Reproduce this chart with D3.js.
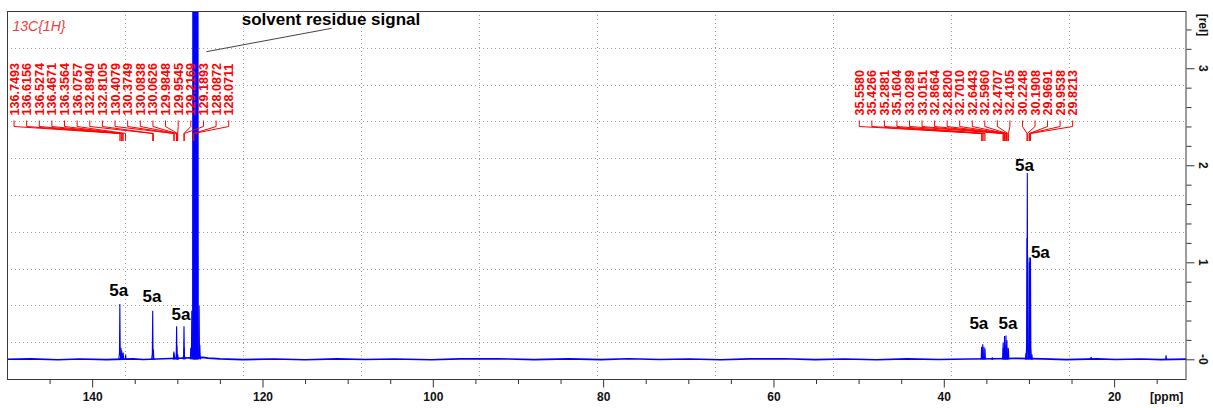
<!DOCTYPE html>
<html>
<head>
<meta charset="utf-8">
<script src="https://cdn.jsdelivr.net/npm/d3@7"></script>
<style>
  html, body { margin: 0; padding: 0; background: #fff; overflow: hidden; }
  text { font-family: "Liberation Sans", Arial, sans-serif; }
</style>
</head>
<body>
<svg id="chart" width="1213" height="408"></svg>
<script>
// ---- 13C{1H} NMR spectrum data ----
// chemical-shift axis limits (ppm, high field on the right) and intensity limits (rel)
const ppmRange = [150, 11.5];
const relRange = [-0.203, 3.59];

// resolved signals: position (ppm) and relative intensity
const peakPpm = [
  136.7493, 136.6156, 136.5274, 136.4671, 136.3564, 136.0757,
  132.8940, 132.8105,
  130.4079, 130.3749, 130.0838, 130.0626, 129.9848, 129.9545,
  129.2169, 129.1893,
  128.42, 128.30, 127.44, 127.36,
  35.5580, 35.4266, 35.2881, 35.1604,
  33.0289, 33.0151, 32.8664, 32.8200, 32.7010, 32.6443, 32.5960, 32.4707, 32.4105,
  30.35, 30.2248, 30.1908, 29.9691, 29.9538, 29.8213, 29.65,
  34.3, 22.7, 13.9
];
const peakHeight = [
  0.57, 0.12, 0.09, 0.06, 0.07, 0.05,
  0.50, 0.10,
  0.08, 0.06, 0.34, 0.14, 0.05, 0.05,
  0.34, 0.12,
  0.12, 0.50, 0.55, 0.15,
  0.13, 0.155, 0.13, 0.11,
  0.17, 0.12, 0.24, 0.15, 0.245, 0.14, 0.20, 0.12, 0.11,
  0.06, 1.25, 1.92, 1.05, 1.00, 1.05, 0.05,
  0.02, 0.025, 0.04
];

// C6D6 solvent multiplet (far off scale)
const solventPpm = [128.15, 128.10, 128.05, 128.00, 127.95, 127.90, 127.85,
                    127.80, 127.75, 127.70, 127.65, 127.60];
const solventHeight = [40, 40, 40, 40, 40, 40, 40, 40, 40, 40, 40, 40];

// baseline trace between signals
const baselinePpm = [150, 147.2, 144.0, 141.5, 138.3, 135.2, 134.0, 131.6, 127.0, 126.4,
  125.0, 122.3, 118.6, 115.0, 111.2, 108.0, 104.5, 100.2, 96.8, 92.5, 88.1, 84.0,
  80.3, 77.0, 73.4, 69.9, 66.2, 62.7, 58.8, 55.1, 51.6, 47.9, 44.3, 40.6, 37.0,
  34.0, 31.5, 28.4, 25.6, 22.0, 19.8, 16.9, 14.5, 11.5];
const baselineLevel = [0.000, 0.004, -0.004, 0.003, -0.003, 0.004, -0.002, 0.005, 0.02, 0.012,
  0.004, -0.003, 0.003, -0.004, 0.004, -0.002, 0.003, -0.004, 0.004, 0.006, -0.003, 0.004,
  -0.003, 0.005, -0.002, 0.003, -0.004, 0.004, 0.005, -0.003, 0.003, -0.004, 0.004, -0.002,
  0.003, 0.006, 0.01, 0.004, -0.003, 0.004, -0.002, 0.003, -0.003, 0.002];

// peak-pick labels
const leftPeakLabels = ["136.7493", "136.6156", "136.5274", "136.4671", "136.3564", "136.0757",
  "132.8940", "132.8105", "130.4079", "130.3749", "130.0838", "130.0626", "129.9848",
  "129.9545", "129.2169", "129.1893", "128.0872", "128.0711"];
const rightPeakLabels = ["35.5580", "35.4266", "35.2881", "35.1604", "33.0289", "33.0151",
  "32.8664", "32.8200", "32.7010", "32.6443", "32.5960", "32.4707", "32.4105", "30.2248",
  "30.1908", "29.9691", "29.9538", "29.8213"];

// compound assignment labels: anchor position (ppm, rel)
const assignText = ["5a", "5a", "5a", "5a", "5a", "5a", "5a"];
const assignPpm = [136.88, 132.97, 129.57, 30.52, 28.66, 35.88, 32.47];
const assignRel = [0.652, 0.594, 0.405, 1.944, 1.041, 0.309, 0.309];

// axis ticks
const xMajorTicks = [140, 120, 100, 80, 60, 40, 20];
const xMinorTicks = [145, 135, 130, 125, 115, 110, 105, 95, 90, 85, 75, 70, 65, 55, 50, 45,
                     35, 30, 25, 15];
const yMajorTicks = [0, 1, 2, 3];
const yTickLabels = ["-0", "1", "2", "3"];
const yMinorTicks = [0.2, 0.4, 0.6, 0.8, 1.2, 1.4, 1.6, 1.8, 2.2, 2.4, 2.6, 2.8, 3.2, 3.4];

// ---- layout ----
const frame = { left: 7, top: 11, right: 1186.5, bottom: 379 };
const blue = "#0000ff";
const red = "#ff0000";

const svg = d3.select("#chart");
const x = d3.scaleLinear().domain(ppmRange).range([frame.left, frame.right]);
const y = d3.scaleLinear().domain(relRange).range([frame.bottom, frame.top]);

// dotted grid: ten equal divisions of the plot frame
const grid = svg.append("g").attr("stroke", "#a0a0a0").attr("stroke-width", 1)
  .attr("stroke-dasharray", "1,3");
const fw = frame.right - frame.left, fh = frame.bottom - frame.top;
for (let k = 1; k < 10; k++) {
  const gx = Math.round(frame.left + fw * k / 10) + 0.5;
  const gy = Math.round(frame.top + fh * k / 10) + 0.5;
  grid.append("line").attr("x1", gx).attr("x2", gx).attr("y1", frame.top).attr("y2", frame.bottom);
  grid.append("line").attr("x1", frame.left).attr("x2", frame.right).attr("y1", gy).attr("y2", gy);
}

// spectrum, clipped to the frame
svg.append("clipPath").attr("id", "plotClip").append("rect")
  .attr("x", frame.left).attr("y", frame.top).attr("width", fw).attr("height", fh);
const spec = svg.append("g").attr("clip-path", "url(#plotClip)")
  .attr("fill", "none").attr("stroke", blue);

const line = d3.line().x(d => x(d[0])).y(d => y(d[1]));
spec.append("path")
  .attr("d", line(baselinePpm.map((p, i) => [p, baselineLevel[i]])))
  .attr("stroke-width", 1.6);

function spike(p, h, w) {
  return line([[p + w, 0], [p + w * 0.35, h * 0.12], [p, h], [p - w * 0.35, h * 0.12], [p - w, 0]]);
}
peakPpm.forEach((p, i) => {
  spec.append("path").attr("d", spike(p, peakHeight[i], 0.12)).attr("stroke-width", 1.1);
});
solventPpm.forEach((p, i) => {
  spec.append("path").attr("d", spike(p, solventHeight[i], 0.05)).attr("stroke-width", 1.1);
});

// frame
svg.append("rect").attr("x", frame.left + 0.5).attr("y", frame.top + 0.5)
  .attr("width", fw - 1).attr("height", fh)
  .attr("fill", "none").attr("stroke", "#3a3a3a").attr("stroke-width", 1);

// x axis (ppm)
const xMinor = d3.axisBottom(x).tickValues(xMinorTicks).tickSize(5).tickFormat("");
const xMajor = d3.axisBottom(x).tickValues(xMajorTicks).tickSize(8.5).tickPadding(5)
  .tickFormat(d3.format("d"));
[xMinor, xMajor].forEach(ax => {
  const g = svg.append("g").attr("transform", `translate(0,${frame.bottom})`).call(ax);
  g.select(".domain").remove();
  g.selectAll(".tick line").attr("stroke", "#333");
  g.selectAll("text").attr("font-size", 12).attr("font-weight", "bold").attr("fill", "#111")
    .attr("font-family", '"Liberation Sans", Arial, sans-serif');
});
svg.append("text").attr("x", 1166.7).attr("y", 400.7).attr("text-anchor", "middle")
  .attr("font-size", 12).attr("font-weight", "bold").attr("fill", "#111").text("[ppm]");

// y axis (rel) on the right
const yMinor = d3.axisRight(y).tickValues(yMinorTicks).tickSize(5).tickFormat("");
const yMajor = d3.axisRight(y).tickValues(yMajorTicks).tickSize(8).tickFormat("");
[yMinor, yMajor].forEach(ax => {
  const g = svg.append("g").attr("transform", `translate(${frame.right},0)`).call(ax);
  g.select(".domain").remove();
  g.selectAll(".tick line").attr("stroke", "#333");
});
yMajorTicks.forEach((v, i) => {
  svg.append("text")
    .attr("transform", `translate(1203.3,${y(v)}) rotate(90)`)
    .attr("text-anchor", "middle").attr("dy", "0.36em")
    .attr("font-size", 12).attr("font-weight", "bold").attr("fill", "#111")
    .text(yTickLabels[i]);
});
svg.append("text")
  .attr("transform", "translate(1203.3,25) rotate(90)")
  .attr("text-anchor", "middle").attr("dy", "0.36em")
  .attr("font-size", 12).attr("font-weight", "bold").attr("fill", "#111")
  .text("[rel]");

// peak-pick labels with connectors
function peakLabelGroup(labels, startX, step) {
  const g = svg.append("g");
  labels.forEach((lab, i) => {
    const lx = startX + i * step;
    const px = x(parseFloat(lab));
    g.append("text")
      .attr("transform", `translate(${lx},115.5) rotate(-90)`)
      .attr("dy", "0.36em")
      .attr("font-size", 12.6).attr("font-weight", "bold")
      .attr("fill", red).text(lab);
    g.append("path")
      .attr("d", `M${lx},120.5 L${lx},126.5 L${px},133.5 L${px},141`)
      .attr("fill", "none").attr("stroke", red).attr("stroke-width", 1);
  });
}
peakLabelGroup(leftPeakLabels, 14, 12.63);
peakLabelGroup(rightPeakLabels, 859.3, 12.55);

// nucleus / experiment label
svg.append("text").attr("x", 12.5).attr("y", 30.5)
  .attr("font-size", 14).attr("font-style", "italic").attr("fill", "#f03c3c")
  .text("13C{1H}");

// solvent annotation
svg.append("line").attr("x1", 206.3).attr("y1", 51.7).attr("x2", 331.7).attr("y2", 28.3)
  .attr("stroke", "#444").attr("stroke-width", 1);
svg.append("text").attr("x", 241.7).attr("y", 25.3)
  .attr("font-size", 17).attr("font-weight", "bold").attr("fill", "#000")
  .text("solvent residue signal");

// assignment labels
assignText.forEach((t, i) => {
  svg.append("text")
    .attr("x", x(assignPpm[i])).attr("y", y(assignRel[i]))
    .attr("text-anchor", "middle")
    .attr("font-size", 17).attr("font-weight", "bold").attr("fill", "#000")
    .text(t);
});
</script>
</body>
</html>
